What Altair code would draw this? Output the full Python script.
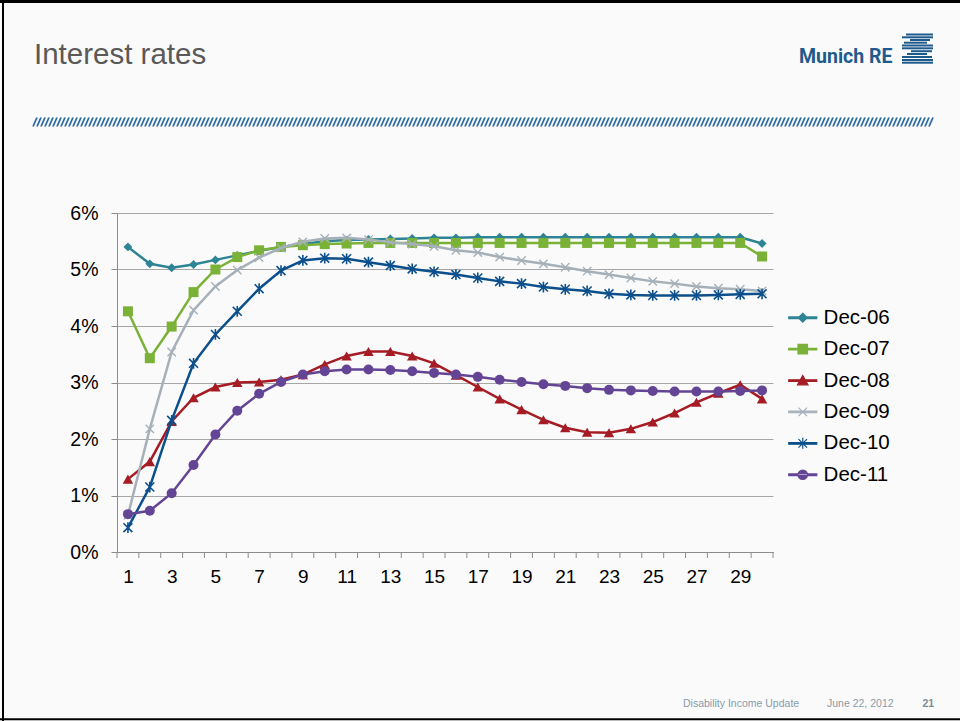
import altair as alt
import pandas as pd

# ---- data -------------------------------------------------------------
years = list(range(1, 31))
series_names = ["Dec-06", "Dec-07", "Dec-08", "Dec-09", "Dec-10", "Dec-11"]

# yield curves, in percent
dec06 = [5.40, 5.10, 5.03, 5.09, 5.17, 5.25, 5.33, 5.40, 5.45, 5.50,
         5.52, 5.53, 5.54, 5.55, 5.56, 5.56, 5.57, 5.57, 5.57, 5.57,
         5.57, 5.57, 5.57, 5.57, 5.57, 5.57, 5.57, 5.57, 5.57, 5.46]
dec07 = [4.26, 3.43, 3.99, 4.60, 5.00, 5.22, 5.34, 5.40, 5.43, 5.45,
         5.46, 5.47, 5.47, 5.47, 5.47, 5.47, 5.47, 5.47, 5.47, 5.47,
         5.47, 5.47, 5.47, 5.47, 5.47, 5.47, 5.47, 5.47, 5.47, 5.23]
dec08 = [1.29, 1.60, 2.31, 2.73, 2.92, 3.00, 3.01, 3.05, 3.14, 3.32,
         3.47, 3.55, 3.55, 3.47, 3.34, 3.13, 2.92, 2.71, 2.52, 2.34,
         2.20, 2.12, 2.11, 2.18, 2.30, 2.46, 2.65, 2.81, 2.96, 2.71]
dec09 = [0.65, 2.18, 3.54, 4.28, 4.70, 4.99, 5.21, 5.38, 5.49, 5.55,
         5.56, 5.53, 5.48, 5.45, 5.41, 5.34, 5.30, 5.22, 5.16, 5.10,
         5.04, 4.97, 4.91, 4.85, 4.79, 4.75, 4.70, 4.67, 4.65, 4.62]
dec10 = [0.43, 1.15, 2.33, 3.34, 3.85, 4.26, 4.66, 4.98, 5.16, 5.20,
         5.19, 5.13, 5.07, 5.01, 4.96, 4.91, 4.85, 4.79, 4.75, 4.69,
         4.65, 4.62, 4.57, 4.55, 4.54, 4.54, 4.54, 4.55, 4.56, 4.57]
dec11 = [0.67, 0.73, 1.04, 1.54, 2.08, 2.50, 2.80, 3.01, 3.14, 3.20,
         3.23, 3.23, 3.22, 3.20, 3.17, 3.14, 3.10, 3.05, 3.01, 2.97,
         2.94, 2.90, 2.87, 2.86, 2.85, 2.84, 2.84, 2.84, 2.85, 2.86]

series_values = [dec06, dec07, dec08, dec09, dec10, dec11]
y_ticks = [0.00, 0.01, 0.02, 0.03, 0.04, 0.05, 0.06]
x_labels = [1, 3, 5, 7, 9, 11, 13, 15, 17, 19, 21, 23, 25, 27, 29]

# ---- styling -----------------------------------------------------------
colors = ["#2e8494", "#7ab238", "#a51c25", "#a6b0b8", "#0b4f8c", "#644494"]
X_PATH = "M-1,-1L1,1M-1,1L1,-1"
STAR_PATH = "M-1,-1L1,1M-1,1L1,-1M0,-1.2L0,1.2"
# (shape, size, filled, strokeWidth)
marker_styles = [
    ("diamond", 80, True, 0),
    ("square", 100, True, 0),
    ("triangle-up", 110, True, 0),
    (X_PATH, 70, False, 1.4),
    (STAR_PATH, 80, False, 1.6),
    ("circle", 100, True, 0),
]
LINE = "M-2.8,-0.16H2.8V0.16H-2.8Z"
legend_shapes = [
    LINE + "M0,-0.9L0.9,0L0,0.9L-0.9,0Z",
    LINE + "M-0.95,-0.95H0.95V0.95H-0.95Z",
    LINE + "M0,-1L1.05,0.85H-1.05Z",
    LINE + "M-0.85,-0.85L0.85,0.85M-0.85,0.85L0.85,-0.85",
    LINE + "M-0.85,-0.85L0.85,0.85M-0.85,0.85L0.85,-0.85M0,-1.1V1.1",
    LINE + "M-0.95,0A0.95,0.95 0 1,0 0.95,0A0.95,0.95 0 1,0 -0.95,0Z",
]

FONT = "Liberation Sans"
GRID = "#a6a6a6"
AXIS = "#8c8c8c"

# plot area on the page
OX, OY = 117, 213
W, H = 656, 339

rows = []
for name, vals in zip(series_names, series_values):
    for yr, v in zip(years, vals):
        rows.append({"year": yr, "series": name, "rate": v / 100.0})
df = pd.DataFrame(rows)

x_scale = alt.Scale(domain=[0.5, 30.5], nice=False, zero=False)
y_scale = alt.Scale(domain=[0, 0.06], nice=False, zero=True)

x_axis = alt.Axis(values=x_labels, ticks=False, grid=False, title=None,
                  labelFontSize=19, labelFont=FONT, labelColor="#000000",
                  labelPadding=15, labelFlush=False, domainColor=AXIS,
                  domainWidth=1)
y_axis = alt.Axis(values=y_ticks, format=".0%", grid=True, gridColor=GRID,
                  gridWidth=1, tickSize=6, tickColor=AXIS, tickWidth=1,
                  domainColor=AXIS, domainWidth=1, title=None,
                  labelFontSize=19.5, labelFont=FONT, labelColor="#000000",
                  labelPadding=13)

x_enc = alt.X("year:Q", scale=x_scale, axis=x_axis)
y_enc = alt.Y("rate:Q", scale=y_scale, axis=y_axis)

layers = []

# category boundary ticks under the x axis
tick_pos = [yr - 0.5 for yr in years] + [years[-1] + 0.5]
ticks = alt.Chart(pd.DataFrame({"tp": tick_pos})).mark_rule(
    color=AXIS, strokeWidth=1
).encode(
    x=alt.X("tp:Q", scale=x_scale, axis=x_axis),
    y=alt.value(H), y2=alt.value(H + 6)
)
layers.append(ticks)

# one line + marker layer pair per curve
for name, col, (shape, size, filled, sw) in zip(series_names, colors, marker_styles):
    sub = df[df["series"] == name]
    base = alt.Chart(sub)
    line = base.mark_line(color=col, strokeWidth=2.5).encode(x=x_enc, y=y_enc)
    if filled:
        pts = base.mark_point(shape=shape, size=size, filled=True, color=col,
                              opacity=1, strokeWidth=0)
    else:
        pts = base.mark_point(shape=shape, size=size, filled=False, color=col,
                              opacity=1, strokeWidth=sw)
    layers += [line, pts.encode(x=x_enc, y=y_enc)]

# legend carrier (symbols only shown in the legend)
leg_df = df[df["year"] == 1]
leg = alt.Legend(orient="none", legendX=675.5, legendY=94.5,
                 title=None, labelFontSize=20.5, labelFont=FONT,
                 labelColor="#000000", symbolSize=100, symbolStrokeWidth=1.2,
                 symbolOffset=0, labelOffset=10.6, rowPadding=10.4, padding=0,
                 symbolOpacity=1)
sdom = alt.Scale(domain=series_names, range=colors)
legend_layer = alt.Chart(leg_df).mark_point(filled=True, opacity=0, size=100,
                                            strokeWidth=1.2).encode(
    x=x_enc, y=y_enc,
    shape=alt.Shape("series:N", scale=alt.Scale(domain=series_names, range=legend_shapes), legend=leg),
    fill=alt.Fill("series:N", scale=sdom, legend=leg),
    stroke=alt.Stroke("series:N", scale=sdom, legend=leg),
)
layers.append(legend_layer)

# ---- page decoration --------------------------------------------------
one = pd.DataFrame({"k": [0]})


def page_text(txt, px, py, size, color, weight="normal", font=FONT):
    return alt.Chart(one).mark_text(
        align="left", baseline="alphabetic", fontSize=size, font=font,
        fontWeight=weight, color=color
    ).encode(x=alt.value(px - OX), y=alt.value(py - OY), text=alt.value(txt))


layers.append(page_text("Interest rates", 34, 63.5, 29.5, "#595959"))
layers.append(page_text("Munich RE", 799, 63.3, 19.5, "#1f5a8c", "bold", "Roboto"))
layers.append(page_text("Disability Income Update", 683, 706.5, 10.5, "#8b9bab"))
layers.append(page_text("June 22, 2012", 827, 706.5, 10.5, "#8b9bab"))
layers.append(page_text("21", 922.5, 706.5, 10.5, "#7c8c99", "bold"))

# logo stripes
logo = pd.DataFrame({
    "ly": [34.5, 37.3, 40.0, 42.7, 45.5, 48.3, 51.2, 54.0, 57.0, 60.0, 62.7],
    "la": [906, 902, 910, 904, 902, 902, 911, 907, 902, 902, 902],
    "lb": [933, 933, 930, 927, 933, 933, 932, 927, 932, 933, 933],
})
logo["ly"] -= OY
logo["la"] -= OX
logo["lb"] -= OX
layers.append(alt.Chart(logo).mark_rule(color="#1f5a8c", strokeWidth=2).encode(
    x=alt.X("la:Q", scale=None), x2="lb:Q",
    y=alt.Y("ly:Q", scale=None)))

# hatched band under the title
hx = []
x0 = 33
while x0 + 4 <= 934:
    hx.append(x0)
    x0 += 4
hatch = pd.DataFrame({"ha": [v - OX for v in hx], "hb": [v + 4 - OX for v in hx]})
layers.append(alt.Chart(hatch).mark_rule(color="#2d6ba6", strokeWidth=1.8).encode(
    x=alt.X("ha:Q", scale=None), x2="hb:Q",
    y=alt.value(126.5 - OY), y2=alt.value(117.5 - OY)))

# page frame (top, left, bottom)
layers.append(alt.Chart(one).mark_rule(color="#000000", strokeWidth=3).encode(
    x=alt.value(-OX), x2=alt.value(960 - OX), y=alt.value(1.5 - OY)))
layers.append(alt.Chart(one).mark_rule(color="#000000", strokeWidth=2).encode(
    x=alt.value(3 - OX), y=alt.value(-OY), y2=alt.value(721 - OY)))
layers.append(alt.Chart(one).mark_rule(color="#000000", strokeWidth=2).encode(
    x=alt.value(-OX), x2=alt.value(960 - OX), y=alt.value(719.3 - OY)))

chart = alt.layer(*layers).properties(
    width=W, height=H,
    padding={"left": OX, "top": OY, "right": 960 - OX - W, "bottom": 721 - OY - H},
    autosize=alt.AutoSizeParams(type="none"),
).configure(background="#fafafa").configure_view(stroke=None)

chart.save("out.html", embed_options={"renderer": "svg", "actions": False})
